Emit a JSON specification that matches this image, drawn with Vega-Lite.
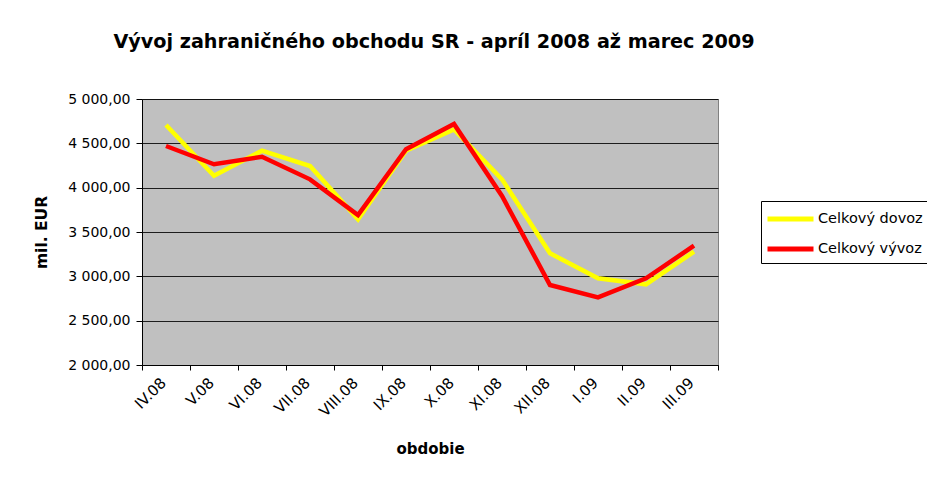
{
  "$schema": "https://vega.github.io/schema/vega-lite/v6.json",
  "autosize": "none",
  "width": 576,
  "height": 266,
  "padding": {"left": 142, "top": 99, "right": 209, "bottom": 114},
  "background": "white",
  "title": {
    "text": "Vývoj zahraničného obchodu SR - apríl 2008 až marec 2009",
    "font": "DejaVu Sans",
    "fontSize": 19.2,
    "fontWeight": "bold",
    "color": "black",
    "anchor": "middle",
    "dx": 4,
    "offset": 40
  },
  "config": {
    "locale": {
      "number": {"decimal": ",", "thousands": " ", "grouping": [3], "currency": ["", " €"]}
    },
    "view": {"fill": "#C0C0C0", "stroke": "#808080", "strokeWidth": 1},
    "font": "DejaVu Sans"
  },
  "data": {
    "values": [
      {"obdobie": "IV.08", "typ": "Celkový dovoz", "hodnota": 4707},
      {"obdobie": "V.08", "typ": "Celkový dovoz", "hodnota": 4135},
      {"obdobie": "VI.08", "typ": "Celkový dovoz", "hodnota": 4417},
      {"obdobie": "VII.08", "typ": "Celkový dovoz", "hodnota": 4244},
      {"obdobie": "VIII.08", "typ": "Celkový dovoz", "hodnota": 3643},
      {"obdobie": "IX.08", "typ": "Celkový dovoz", "hodnota": 4417},
      {"obdobie": "X.08", "typ": "Celkový dovoz", "hodnota": 4658},
      {"obdobie": "XI.08", "typ": "Celkový dovoz", "hodnota": 4094},
      {"obdobie": "XII.08", "typ": "Celkový dovoz", "hodnota": 3260},
      {"obdobie": "I.09", "typ": "Celkový dovoz", "hodnota": 2978},
      {"obdobie": "II.09", "typ": "Celkový dovoz", "hodnota": 2910},
      {"obdobie": "III.09", "typ": "Celkový dovoz", "hodnota": 3278},
      {"obdobie": "IV.08", "typ": "Celkový vývoz", "hodnota": 4470},
      {"obdobie": "V.08", "typ": "Celkový vývoz", "hodnota": 4264},
      {"obdobie": "VI.08", "typ": "Celkový vývoz", "hodnota": 4349},
      {"obdobie": "VII.08", "typ": "Celkový vývoz", "hodnota": 4094},
      {"obdobie": "VIII.08", "typ": "Celkový vývoz", "hodnota": 3692},
      {"obdobie": "IX.08", "typ": "Celkový vývoz", "hodnota": 4433},
      {"obdobie": "X.08", "typ": "Celkový vývoz", "hodnota": 4718},
      {"obdobie": "XI.08", "typ": "Celkový vývoz", "hodnota": 3906},
      {"obdobie": "XII.08", "typ": "Celkový vývoz", "hodnota": 2902},
      {"obdobie": "I.09", "typ": "Celkový vývoz", "hodnota": 2763},
      {"obdobie": "II.09", "typ": "Celkový vývoz", "hodnota": 2978},
      {"obdobie": "III.09", "typ": "Celkový vývoz", "hodnota": 3346}
    ]
  },
  "mark": {"type": "line", "strokeWidth": 4.5, "strokeJoin": "miter"},
  "encoding": {
    "x": {
      "field": "obdobie",
      "type": "ordinal",
      "sort": null,
      "scale": {"type": "band", "paddingInner": 0, "paddingOuter": 0},
      "axis": {
        "title": "obdobie",
        "titleFont": "DejaVu Sans",
        "titleFontSize": 15,
        "titleFontWeight": "bold",
        "titleColor": "black",
        "titlePadding": 22,
        "labelAngle": -45,
        "labelFont": "DejaVu Sans",
        "labelFontSize": 15,
        "labelColor": "black",
        "labelPadding": 5,
        "labelOffset": -8,
        "tickBand": "extent",
        "tickSize": 5,
        "tickColor": "black",
        "domainColor": "black",
        "grid": false
      }
    },
    "y": {
      "field": "hodnota",
      "type": "quantitative",
      "scale": {"domain": [2000, 5000], "nice": false, "zero": false},
      "axis": {
        "title": "mil. EUR",
        "titleFont": "DejaVu Sans",
        "titleFontSize": 15.5,
        "titleFontWeight": "bold",
        "titleColor": "black",
        "titlePadding": 18,
        "values": [2000, 2500, 3000, 3500, 4000, 4500, 5000],
        "format": ",.2f",
        "labelFont": "DejaVu Sans",
        "labelFontSize": 14,
        "labelColor": "black",
        "labelPadding": 6,
        "tickSize": 6,
        "tickColor": "black",
        "domainColor": "black",
        "grid": true,
        "gridColor": "black",
        "gridOpacity": 0.85,
        "gridWidth": 1
      }
    },
    "color": {
      "field": "typ",
      "type": "nominal",
      "scale": {"domain": ["Celkový dovoz", "Celkový vývoz"], "range": ["#FFFF00", "#FF0000"]},
      "legend": {
        "title": null,
        "orient": "none",
        "legendX": 619,
        "legendY": 102,
        "strokeColor": "black",
        "padding": 4,
        "symbolType": "M-1,0L3,0",
        "symbolStrokeWidth": 5,
        "symbolSize": 529,
        "labelFont": "DejaVu Sans",
        "labelFontSize": 14.5,
        "labelColor": "black",
        "labelOffset": 25,
        "rowPadding": 6,
        "fillColor": "white"
      }
    }
  }
}
